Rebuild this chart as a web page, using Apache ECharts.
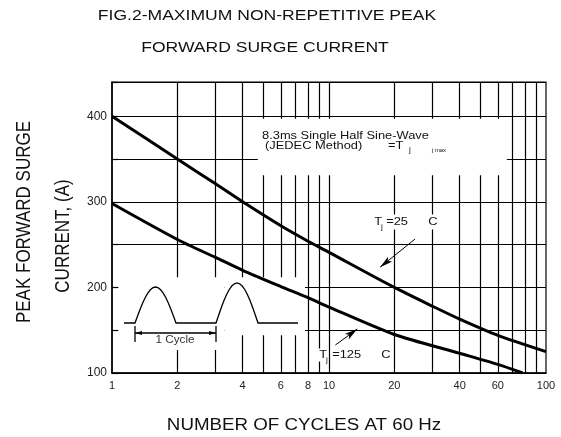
<!DOCTYPE html>
<html><head><meta charset="utf-8">
<script src="https://cdn.jsdelivr.net/npm/echarts@6/dist/echarts.min.js"></script>
<style>html,body{margin:0;padding:0;background:#fff}#c{width:561px;height:437px}</style>
</head><body><div id="c"></div>
<script>
// ---------- data ----------
const titleLines = ['FIG.2-MAXIMUM NON-REPETITIVE PEAK', 'FORWARD SURGE CURRENT'];
const xAxisTitle = 'NUMBER OF CYCLES AT 60 Hz';
const yAxisTitleLines = ['PEAK FORWARD SURGE', 'CURRENT, (A)'];
const xTickLabels = [1, 2, 4, 6, 8, 10, 20, 40, 60, 100];
const xGridValues = [2, 3, 4, 5, 6, 7, 8, 9, 10, 20, 30, 40, 50, 60, 70, 80, 90];
const yTickLabels = [100, 200, 300, 400];
const cycles25 = [1, 2, 3, 4, 6, 8, 10, 20, 30, 40, 60, 100];
const current25 = [400, 350, 321, 300, 272, 254, 241, 200, 178, 163, 144, 125];
const cycles125 = [1, 2, 3, 4, 6, 8, 10, 20, 40, 60, 78];
const current125 = [298, 256, 235, 220, 201, 188, 177, 145, 123, 110, 100];

// ---------- layout ----------
const FONT = '"Liberation Sans", Arial, Helvetica, sans-serif';
const SX = 1.17;
const G = {left: 112, top: 82, width: 434, height: 291};
// regions where the printed grid is interrupted (data coords)
const gapAreas = [
  [[4.7, 331], [66, 397]],
  [[1.07, 127], [3.3, 212]],
  [[3.3, 144], [7.75, 212]]
];
const arrowSegs = [
  [[17.2, 223.7], [24.9, 256.4]],
  [[13.5, 151.3], [10.7, 132.7]]
];

function pairs(xs, ys) { return xs.map((x, i) => [x, ys[i]]); }

function txt(text, x, y, size, opts) {
  opts = opts || {};
  return {
    type: 'text', x: x, y: y, z: 10,
    scaleX: opts.scaleX == null ? SX : opts.scaleX,
    scaleY: opts.scaleY == null ? 1 : opts.scaleY,
    rotation: opts.rotation || 0,
    style: Object.assign({
      text: text, fill: '#111', font: size + 'px ' + FONT,
      align: opts.align || 'center', verticalAlign: 'middle'
    }, opts.style || {})
  };
}

// inset half-sine illustration (pixel drawing)
function hump(x0, x1, base, amp) {
  const pts = [];
  const n = 16;
  for (let i = 0; i <= n; i++) {
    const t = i / n;
    pts.push([x0 + (x1 - x0) * t, base - amp * Math.sin(Math.PI * t)]);
  }
  return pts;
}
const wavePts = [[124, 323]].concat(hump(135, 176, 323, 36), hump(216, 258, 323, 40), [[298, 323]]);

const graphics = [
  txt(titleLines[0], 267, 16, 15),
  txt(titleLines[1], 265, 48, 15),
  txt(xAxisTitle, 304, 426, 16),
  txt(yAxisTitleLines[0], 25, 222, 17, {scaleX: 1, scaleY: SX, rotation: Math.PI / 2}),
  txt(yAxisTitleLines[1], 64, 236, 17, {scaleX: 1, scaleY: SX, rotation: Math.PI / 2}),
  txt('8.3ms Single Half Sine-Wave', 262, 136, 11, {align: 'left'}),
  txt('(JEDEC Method)', 265, 146, 11, {align: 'left'}),
  txt('=T', 388, 146, 11, {align: 'left'}),
  txt('j', 409, 150, 7, {align: 'left'}),
  txt('j max', 432, 151, 5, {align: 'left'}),
  // Tj = 25 C
  txt('T', 373, 222, 11, {align: 'left', style: {backgroundColor: '#fff', padding: [1, 0, 1, 1]}}),
  txt('j', 381, 227, 7, {align: 'left'}),
  txt('=25', 385, 222, 11, {align: 'left', style: {backgroundColor: '#fff', padding: [2, 1, 2, 1]}}),
  txt('C', 427, 222, 11, {align: 'left', style: {backgroundColor: '#fff', padding: [2, 1, 2, 1]}}),
  // Tj = 125 C
  txt('T', 318, 355, 11, {align: 'left', style: {backgroundColor: '#fff', padding: [1, 0, 1, 1]}}),
  txt('j', 326, 360, 7, {align: 'left'}),
  txt('=125', 331, 355, 11, {align: 'left', style: {backgroundColor: '#fff', padding: [2, 1, 2, 1]}}),
  txt('C', 380, 355, 11, {align: 'left', style: {backgroundColor: '#fff', padding: [2, 1, 2, 1]}}),
  // waveform + 1 cycle bracket
  {type: 'polyline', z: 10, shape: {points: wavePts}, style: {stroke: '#000', lineWidth: 1.3, fill: null}},
  {type: 'line', z: 10, shape: {x1: 135, y1: 333, x2: 216, y2: 333}, style: {stroke: '#000', lineWidth: 1.3}},
  {type: 'line', z: 10, shape: {x1: 135, y1: 326, x2: 135, y2: 342}, style: {stroke: '#000', lineWidth: 1.3}},
  {type: 'line', z: 10, shape: {x1: 216, y1: 326, x2: 216, y2: 342}, style: {stroke: '#000', lineWidth: 1.3}},
  {type: 'polygon', z: 10, shape: {points: [[135, 333], [142, 331], [142, 335]]}, style: {fill: '#000'}},
  {type: 'polygon', z: 10, shape: {points: [[216, 333], [209, 331], [209, 335]]}, style: {fill: '#000'}},
  txt('1 Cycle', 175, 340, 10, {style: {fill: '#333'}})
];

const option = {
  animation: false,
  backgroundColor: '#fff',
  grid: Object.assign({show: true, borderColor: '#000', borderWidth: 1.2, backgroundColor: 'transparent'}, G),
  xAxis: {
    type: 'log', logBase: 10, min: 1, max: 100,
    axisLine: {show: true, lineStyle: {color: '#000', width: 1.5}},
    axisTick: {show: false},
    splitLine: {show: false},
    axisLabel: {customValues: xTickLabels, margin: 7, color: '#222', fontSize: 11, fontFamily: FONT,
      formatter: v => String(Math.round(v))}
  },
  yAxis: {
    type: 'value', min: 100, max: 440, interval: 50,
    axisLine: {show: true, lineStyle: {color: '#000', width: 1.5}},
    axisTick: {show: true, inside: true, length: 6, lineStyle: {color: '#000', width: 1.2}},
    splitLine: {show: true, lineStyle: {color: '#000', width: 1.2}},
    axisLabel: {margin: 5, color: '#222', fontSize: 12, fontFamily: FONT,
      formatter: v => yTickLabels.indexOf(v) >= 0 ? String(v) : ''}
  },
  graphic: {z: 10, elements: graphics},
  series: [
    {
      type: 'line', data: [], silent: true, z: 1,
      markLine: {
        silent: true, z: 1, animation: false, symbol: ['none', 'none'],
        label: {show: false}, lineStyle: {color: '#000', width: 1.2, type: 'solid'},
        emphasis: {disabled: true},
        data: xGridValues.map(v => ({xAxis: v}))
      },
      markArea: {
        silent: true, z: 2, animation: false,
        itemStyle: {color: '#fff', opacity: 1},
        emphasis: {disabled: true},
        data: gapAreas.map(a => [{coord: a[0]}, {coord: a[1]}])
      }
    },
    {
      name: 'Tj=25C', type: 'line', z: 3, smooth: 0.25, symbol: 'none', silent: true,
      lineStyle: {color: '#000', width: 3},
      data: pairs(cycles25, current25),
      markLine: {
        silent: true, z: 4, animation: false, symbol: ['arrow', 'none'], symbolSize: [5, 13],
        label: {show: false}, lineStyle: {color: '#000', width: 1, type: 'solid'},
        emphasis: {disabled: true},
        data: arrowSegs.map(s => [{coord: s[0]}, {coord: s[1]}])
      }
    },
    {
      name: 'Tj=125C', type: 'line', z: 3, smooth: 0.25, symbol: 'none', silent: true,
      lineStyle: {color: '#000', width: 3},
      data: pairs(cycles125, current125)
    }
  ]
};
const chart = echarts.init(document.getElementById('c'));
chart.setOption(option);
</script></body></html>
